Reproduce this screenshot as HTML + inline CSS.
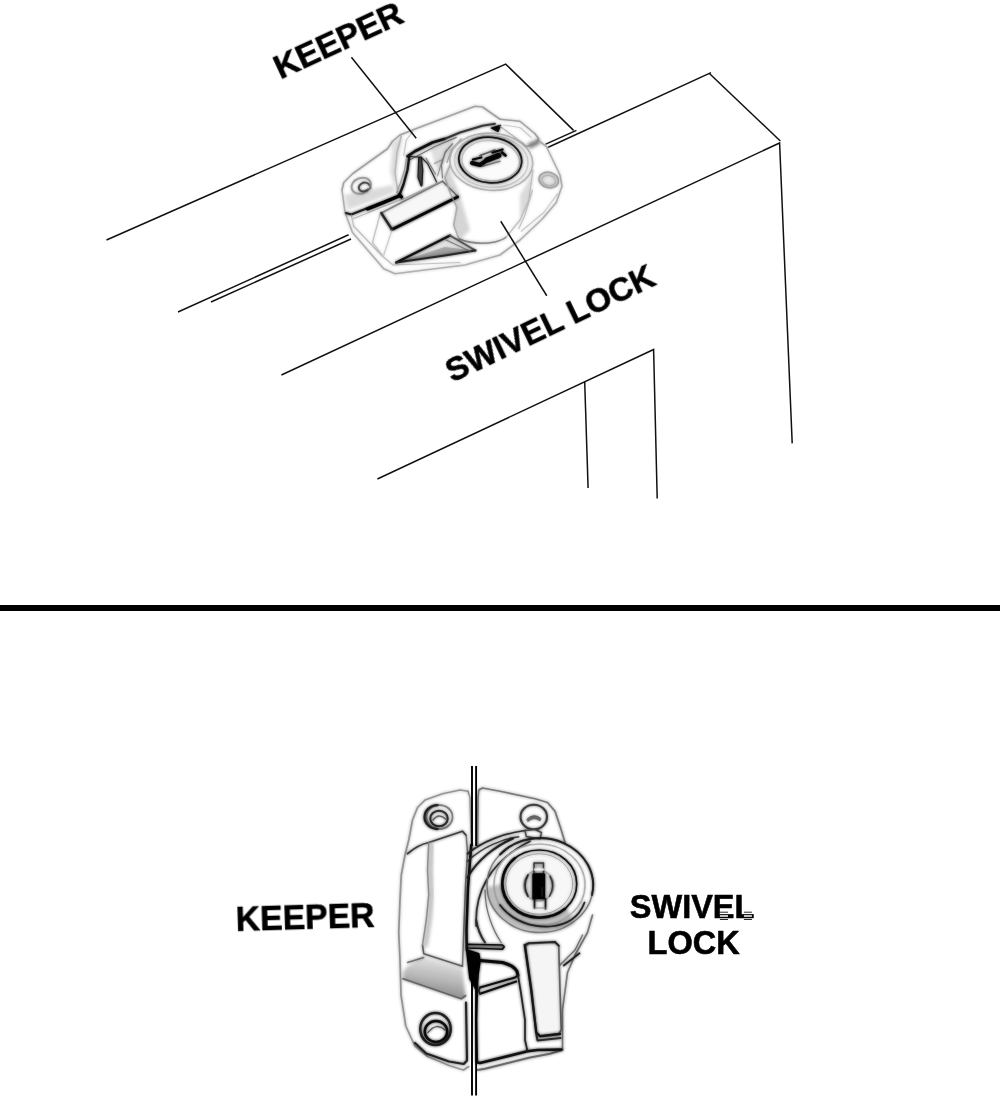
<!DOCTYPE html>
<html>
<head>
<meta charset="utf-8">
<title>Keeper and Swivel Lock</title>
<style>
html,body{margin:0;padding:0;background:#fff;}
body{width:1000px;height:1098px;overflow:hidden;position:relative;font-family:"Liberation Sans",sans-serif;}
svg{position:absolute;left:0;top:0;display:block;}
text{font-family:"Liberation Sans",sans-serif;font-weight:bold;fill:#000;stroke:#000;stroke-width:0.6px;stroke-linejoin:round;}
</style>
</head>
<body>
<svg width="1000" height="1098" viewBox="0 0 1000 1098">
<rect width="1000" height="1098" fill="#fff"/>
<defs><filter id="tsoft" x="-5%" y="-20%" width="110%" height="140%"><feGaussianBlur stdDeviation="0.4"/></filter></defs>
<!-- FRAME LINES TOP -->
<g id="frame" stroke="#111" stroke-width="1.5" fill="none" stroke-linecap="butt">
<path d="M106.5 240 L505.7 64.1 L573.6 130.4"/>
<path d="M178 312 L348.6 234.8"/>
<path d="M211 302 L351 239"/>
<path d="M545.2 144.4 L576.4 130.4"/>
<path d="M547.2 147.8 L711 72.6"/>
<path d="M709.4 73.5 L780.3 141"/>
<path d="M281.4 375 L779.6 143 L792.2 443.4"/>
<path d="M377.4 479 L653.6 349.5 L657.2 498.5"/>
<path d="M584.7 382 L588.1 488.1"/>
</g>
<!-- LOCK TOP placeholder -->
<!--LOCKTOP-START-->
<defs>
<filter id="soft" x="-5%" y="-5%" width="110%" height="110%" color-interpolation-filters="sRGB">
<feGaussianBlur in="SourceGraphic" stdDeviation="1.8" result="a"/>
<feGaussianBlur in="SourceGraphic" stdDeviation="6" result="b"/>
<feBlend mode="multiply" in="a" in2="b"/>
</filter>
<filter id="soft2" x="-20%" y="-20%" width="140%" height="140%"><feGaussianBlur stdDeviation="6"/></filter>
<linearGradient id="gwedge" x1="0" y1="0" x2="0" y2="1">
<stop offset="0" stop-color="#e8e8e8"/><stop offset="1" stop-color="#a8a8a8"/>
</linearGradient>
<radialGradient id="gscrew" cx="0.5" cy="0.5" r="0.5">
<stop offset="0" stop-color="#f6f6f6"/><stop offset="0.7" stop-color="#ebebeb"/><stop offset="1" stop-color="#dadada"/>
</radialGradient>
</defs>
<g id="locktop" transform="translate(320 90) scale(0.25)" fill="none" stroke-linecap="round" stroke-linejoin="round" filter="url(#soft)">
<!-- white mask -->
<path d="M88 400 L95 370 L130 335 L270 235 L290 205 L320 180 L370 160 L620 65 L650 68 L720 117 L800 125 L860 175 L905 225 L960 340 L968 385 L945 450 L890 515 L800 600 L720 660 L580 700 L300 735 L255 715 L130 570 L100 490 Z" fill="#fff" stroke="none"/>
<!-- soft shading blobs -->
<g filter="url(#soft2)" stroke="none">
<path d="M510 300 L495 360 L545 470 L535 540 L560 600 L600 560 L560 420 Z" fill="#e9e9e9"/>
<path d="M800 520 L840 430 L852 330 L800 420 Z" fill="#ececec"/>
<path d="M290 210 L330 190 L310 300 L300 400 L280 330 Z" fill="#efefef"/>
<path d="M100 420 L110 480 L300 410 L290 380 Z" fill="#ececec"/>
<path d="M830 215 L875 195 L880 215 L840 235 Z" fill="#b5b5b5"/>
<path d="M440 230 L540 190 L520 260 L470 330 Z" fill="#eeeeee"/>
</g>
<!-- outer silhouette -->
<path d="M88 400 L95 370 L130 335 L270 235 L290 205 L320 180 L370 160 L620 65 L650 68 L720 117" stroke="#b8b8b8" stroke-width="6.3"/>
<path d="M870 200 L905 225 L960 340 L968 385 L945 450 L890 515 L800 600 L720 660 L580 700 L300 735 L255 715 L130 570 L100 490 L88 400" stroke="#c2c2c2" stroke-width="6.3"/>
<!-- keeper hook right -->
<path d="M720 117 L800 125 L860 175 L875 195 L862 215 L825 226 L808 210" stroke="#b5b5b5" stroke-width="6.3"/>
<path d="M735 140 L800 150 L845 190" stroke="#d8d8d8" stroke-width="4.8"/>
<path d="M685 152 L722 141 L712 166 Z" fill="#1a1a1a" stroke="#1a1a1a" stroke-width="4.8"/>
<path d="M720 145 L760 175 L808 210" stroke="#c9c9c9" stroke-width="4.8"/>
<!-- bridge -->
<path d="M350 265 L380 245 L450 210 L500 195" stroke="#222" stroke-width="10.7"/>
<path d="M500 195 L560 170 L650 143 L700 135" stroke="#555" stroke-width="7.8"/>
<path d="M362 278 L460 226 L545 190" stroke="#8a8a8a" stroke-width="4.8"/>
<path d="M325 185 L308 250 L300 330 L312 412" stroke="#cfcfcf" stroke-width="6.3"/>
<path d="M372 165 L345 200 L335 262" stroke="#d4d4d4" stroke-width="4.8"/>
<path d="M357 266 L350 320 L334 378 L318 419" stroke="#2a2a2a" stroke-width="9.2"/>
<path d="M318 419 L326 428" stroke="#000" stroke-width="13.5"/>
<!-- keeper plate front edge -->
<path d="M104 492 L125 498 L318 422" stroke="#333" stroke-width="7.8"/>
<path d="M190 476 L250 452 L316 424" stroke="#000" stroke-width="12"/>
<path d="M135 514 L330 436" stroke="#c5c5c5" stroke-width="4.8"/>
<path d="M125 500 L135 545 L250 665 L292 700 L560 690" stroke="#cdcdcd" stroke-width="4.8"/>
<!-- left screw hole -->
<ellipse cx="165" cy="383" rx="40" ry="31" stroke="#b9b9b9" stroke-width="7.8" transform="rotate(-20 165 383)"/>
<path d="M192 398 A22 17 -20 1 1 196 378" stroke="#6a6a6a" stroke-width="7.8"/>
<path d="M196 378 L204 392 L192 398" stroke="#8a8a8a" stroke-width="4.8"/>
<!-- under bridge details -->
<path d="M395 269 L392 349 L405 384 L408 381 L411 320 L405 269 Z" stroke="#333" stroke-width="5" fill="#888"/>
<path d="M357 266 L405 269" stroke="#333" stroke-width="5"/>
<path d="M405 269 L430 294 L456 346 L466 368" stroke="#444" stroke-width="5"/>
<path d="M424 272 L462 336" stroke="#a5a5a5" stroke-width="4.8"/>
<path d="M458 294 L490 278 L506 240 M490 278 L470 344" stroke="#b5b5b5" stroke-width="4.8"/>
<path d="M345 275 L338 320 L322 370 L306 410" stroke="#bdbdbd" stroke-width="4.8"/>
<path d="M530 215 L500 250 L486 300 L490 352" stroke="#9a9a9a" stroke-width="4.8"/>
<path d="M565 195 L525 240 L508 290" stroke="#bbb" stroke-width="4.8"/>
<!-- lever -->
<path d="M245 492 L490 365 L550 425 L288 558 Z" fill="#fbfbfb" stroke="none"/>
<path d="M245 492 L490 365" stroke="#9b9b9b" stroke-width="6.3"/>
<path d="M490 365 L550 425" stroke="#8a8a8a" stroke-width="6.3"/>
<path d="M288 558 L550 428" stroke="#111" stroke-width="12.1"/>
<path d="M245 492 L288 558" stroke="#444" stroke-width="9.2"/>
<path d="M240 497 L210 610 L250 662" stroke="#d0d0d0" stroke-width="4.8"/>
<path d="M288 560 L255 660" stroke="#d8d8d8" stroke-width="4.8"/>
<path d="M325 440 L470 372" stroke="#bdbdbd" stroke-width="4.8"/>
<!-- wedge -->
<path d="M305 690 L520 582 L622 642 Z" fill="#f1f1f1" stroke="none"/>
<path d="M305 690 L500 628 L622 642 L500 662 Z" fill="#c9c9c9" stroke="none"/>
<path d="M305 690 L520 582" stroke="#222" stroke-width="9.2"/>
<path d="M520 582 L622 642" stroke="#777" stroke-width="7.8"/>
<path d="M305 690 L500 662 L622 642" stroke="#444" stroke-width="7.8"/>
<path d="M505 600 L600 645" stroke="#999" stroke-width="4.8"/>
<!-- barrel body -->
<path d="M520 300 L500 350 L520 410 L548 470 L535 540 L555 595" stroke="#c6c6c6" stroke-width="6.3"/>
<path d="M555 595 Q620 622 700 608 Q730 600 745 588" stroke="#9d9d9d" stroke-width="6.3"/>
<path d="M745 588 L800 520 L835 440 L852 320" stroke="#cfcfcf" stroke-width="4.8"/>
<path d="M850 400 L820 500 L795 555" stroke="#d2d2d2" stroke-width="4.8"/>
<path d="M950 415 L895 490 L805 565" stroke="#d8d8d8" stroke-width="4.8"/>
<!-- barrel top -->
<ellipse cx="685" cy="287" rx="166" ry="114" transform="rotate(4 685 287)" fill="#fbfbfb" stroke="#c9c9c9" stroke-width="6.3"/>
<ellipse cx="685" cy="286" rx="147" ry="103" transform="rotate(4 685 286)" stroke="#dadada" stroke-width="6.3"/>
<ellipse cx="681" cy="280" rx="126" ry="91" transform="rotate(5 681 280)" fill="#fdfdfd" stroke="#2a2a2a" stroke-width="7"/>
<ellipse cx="683" cy="283" rx="115" ry="80" transform="rotate(5 683 283)" stroke="#d5d5d5" stroke-width="4.8"/>
<!-- keyhole -->
<g stroke="#111">
<path d="M608 292 L640 300 L660 286" stroke-width="16.4"/>
<path d="M612 278 L645 270" stroke-width="9.2"/>
<path d="M668 280 L715 262" stroke-width="20.8"/>
<path d="M690 250 L730 238" stroke-width="9.2"/>
<path d="M728 250 L742 262" stroke-width="10.7"/>
<path d="M640 262 L700 240" stroke="#777" stroke-width="6.3"/>
<path d="M650 305 L720 285" stroke="#999" stroke-width="6.3"/>
</g>
<!-- right screw -->
<ellipse cx="915" cy="360" rx="40" ry="31" transform="rotate(15 915 360)" fill="url(#gscrew)" stroke="#bdbdbd" stroke-width="6.3"/>
<ellipse cx="915" cy="362" rx="27" ry="20" transform="rotate(15 915 362)" stroke="#cfcfcf" stroke-width="4.8"/>
</g>
<!--LOCKTOP-END-->
<!-- LEADERS -->
<g stroke="#111" stroke-width="1.5" fill="none"><path d="M351.4 57.2 L416.2 138.2"/><path d="M500.75 221.25 L546.75 295.75"/></g>
<!-- LABELS TOP -->
<text id="t1" filter="url(#tsoft)" transform="translate(280.3 79.6) rotate(-24.85)" font-size="33.6">KEEPER</text>
<text id="t2" filter="url(#tsoft)" transform="translate(452.3 383) rotate(-25.7)" font-size="32.9">SWIVEL LOCK</text>
<!-- DIVIDER -->
<rect x="0" y="605" width="1000" height="6" fill="#000"/>
<!-- BOTTOM -->
<!--LOCKBOT-START-->
<defs>
<filter id="bsoft" x="-5%" y="-5%" width="110%" height="110%" color-interpolation-filters="sRGB">
<feGaussianBlur in="SourceGraphic" stdDeviation="1.6" result="a"/>
<feGaussianBlur in="SourceGraphic" stdDeviation="6" result="b"/>
<feBlend mode="multiply" in="a" in2="b"/>
</filter>
<filter id="bsoft2" x="-20%" y="-20%" width="140%" height="140%"><feGaussianBlur stdDeviation="7"/></filter>
<linearGradient id="gband" x1="0.35" y1="0" x2="0.1" y2="1">
<stop offset="0" stop-color="#f0f0f0"/><stop offset="0.45" stop-color="#d9d9d9"/><stop offset="1" stop-color="#b2b2b2"/>
</linearGradient>
</defs>
<g id="lockbot" transform="translate(375 770) scale(0.25)" fill="none" stroke-linecap="round" stroke-linejoin="round" filter="url(#bsoft)">
<!-- KEEPER -->
<path d="M372 85 L340 80 L270 95 L200 120 L170 150 L150 200 L135 280 L120 340 L105 420 L100 520 L95 650 L100 760 L104 900 L123 1024 L159 1103 L210 1146 L296 1182 L354 1200 L375 1186 L372 700 L385 300 L380 110 Z" fill="#fff" stroke="none"/>
<!-- shaded band -->
<path d="M125 790 L190 745 L350 792 L362 905 L345 915 L118 838 L110 815 Z" fill="url(#gband)" stroke="none" filter="url(#bsoft2)"/>
<path d="M372 85 L340 80 L270 95 L200 120 L170 150 L150 200 L135 280 L120 340 L105 420 L100 520 L95 650 L100 760 L104 900 L123 1024 L159 1103 L210 1146 L296 1182 L354 1200 L375 1186" stroke="#acacac" stroke-width="7"/>
<path d="M160 1092 L205 1134 L296 1166 L355 1176 L368 1162 L364 930" stroke="#3a3a3a" stroke-width="8.5"/>
<path d="M372 85 L380 110 L385 300" stroke="#a5a5a5" stroke-width="6"/>
<path d="M385 300 L372 470 L366 640 L367 720" stroke="#1c1c1c" stroke-width="10"/>
<!-- hook -->
<path d="M130 335 Q170 300 215 290 L350 245 L365 262" stroke="#555" stroke-width="7"/><path d="M365 262 L370 330 L362 460 L355 640 L350 785" stroke="#8a8a8a" stroke-width="6"/>
<path d="M350 785 L195 735 L190 700" stroke="#7a7a7a" stroke-width="6.5"/><path d="M203 700 L218 600 L228 500 L223 400 L228 300" stroke="#dedede" stroke-width="18" filter="url(#bsoft2)"/><path d="M190 700 L205 600 L215 500 L210 400 L215 290" stroke="#a8a8a8" stroke-width="6"/>
<path d="M112 835 L345 915 L362 903" stroke="#858585" stroke-width="7"/>
<path d="M130 770 L195 750" stroke="#8b8b8b" stroke-width="5.4"/>
<!-- screws keeper -->
<ellipse cx="258" cy="188" rx="52" ry="48" stroke="#9a9a9a" stroke-width="7"/>
<path d="M250 140 A52 48 0 0 0 250 236" stroke="#3c3c3c" stroke-width="9"/>
<ellipse cx="256" cy="194" rx="35" ry="31" stroke="#454545" stroke-width="8.1"/>
<path d="M232 200 Q255 170 282 196" stroke="#7d7d7d" stroke-width="5.4"/>
<ellipse cx="242" cy="1036" rx="61" ry="64" stroke="#3c3c3c" stroke-width="10"/>
<ellipse cx="244" cy="1046" rx="45" ry="42" stroke="#1a1a1a" stroke-width="10"/>
<path d="M212 1050 Q245 1008 280 1040" stroke="#6f6f6f" stroke-width="5.4"/>
<!-- SWIVEL -->
<path d="M415 80 L430 72 L500 85 L640 115 L690 130 L720 165 L745 240 L760 290 L830 350 L870 440 L880 520 L870 600 L850 650 L800 740 L770 810 L750 960 L750 1120 L700 1135 L620 1150 L440 1195 L410 1200 L410 300 L412 110 Z" fill="#fff" stroke="none"/>
<path d="M410 300 L412 110 L415 80 L430 72 L500 85 L640 115 L690 130 L720 165 L745 240 L760 290" stroke="#929292" stroke-width="7"/>
<path d="M870 580 L850 650 L800 740 L770 810 L750 960 L750 1120" stroke="#909090" stroke-width="6.5"/>
<path d="M740 780 L800 720 L830 660" stroke="#8b8b8b" stroke-width="5.4"/>
<path d="M410 1200 L440 1195 L620 1150 L700 1135 L750 1120" stroke="#878787" stroke-width="8.1"/>
<path d="M410 1170 L420 1172 L610 1125 L650 1120 L745 1118" stroke="#222" stroke-width="10.8"/>
<!-- right screw -->
<ellipse cx="635" cy="188" rx="53" ry="49" stroke="#5a5a5a" stroke-width="8.5"/>
<path d="M608 196 Q636 170 664 194 L660 204 Q636 184 612 206 Z" fill="#999" stroke="#777" stroke-width="3"/>

<!-- barrel shading -->
<g filter="url(#bsoft2)" stroke="none">
<path d="M447 470 A210 186 0 0 0 657 648 A210 186 0 0 0 800 612 L765 550 A150 136 0 0 1 507 456 Z" fill="#dcdcdc"/>
</g>
<!-- cam arcs -->
<path d="M370 335 C430 285 520 252 600 242" stroke="#444" stroke-width="7"/>
<path d="M370 365 C430 308 510 275 575 267" stroke="#555" stroke-width="6"/>
<path d="M370 430 C410 360 480 305 552 274" stroke="#3a3a3a" stroke-width="8"/>
<path d="M405 625 C398 500 450 370 620 285" stroke="#4a4a4a" stroke-width="7"/>
<path d="M440 690 Q412 650 405 600" stroke="#4a4a4a" stroke-width="8"/>
<path d="M440 480 C440 560 470 640 505 690" stroke="#8a8a8a" stroke-width="5"/>
<path d="M600 242 L605 266 L660 276 L666 250 L640 238 Z" stroke="#6a6a6a" stroke-width="6" fill="#fff"/>
<!-- barrel -->
<ellipse cx="660" cy="462" rx="212" ry="188" stroke="#9a9a9a" stroke-width="6"/>
<path d="M500 338 A212 188 0 0 1 868 500" stroke="#3a3a3a" stroke-width="8"/>
<ellipse cx="658" cy="459" rx="182" ry="163" stroke="#c4c4c4" stroke-width="6"/>
<ellipse cx="657" cy="456" rx="150" ry="136" fill="#fbfbfb" stroke="#1e1e1e" stroke-width="6.5"/>
<path d="M560 352 A150 136 0 0 0 760 555" stroke="#181818" stroke-width="9.5"/>
<ellipse cx="657" cy="456" rx="134" ry="121" stroke="#b5b5b5" stroke-width="4"/>
<path d="M500 540 C555 612 640 630 700 626 C770 620 818 585 838 530" stroke="#3a3a3a" stroke-width="7"/>
<!-- keyhole -->
<ellipse cx="655" cy="462" rx="60" ry="62" stroke="#bdbdbd" stroke-width="5" fill="#eee"/>
<path d="M612 420 Q588 462 612 505" stroke="#444" stroke-width="7"/>
<path d="M700 425 Q722 462 698 505" stroke="#555" stroke-width="6"/>
<rect x="636" y="372" width="38" height="44" stroke="#555" stroke-width="6" fill="#ddd"/>
<path d="M640 398 H672" stroke="#fff" stroke-width="10"/>
<path d="M638 515 V552 M682 515 V555" stroke="#333" stroke-width="7"/><path d="M638 552 H682" stroke="#aaa" stroke-width="4"/>
<rect x="632" y="416" width="46" height="98" fill="#0a0a0a" stroke="#0a0a0a" stroke-width="5"/>
<path d="M668 470 L668 505" stroke="#777" stroke-width="6"/>
<!-- lower swivel lines -->
<path d="M367 697 L510 700 L517 707 L510 717 L370 712 Z" fill="#cfcfcf" stroke="#1a1a1a" stroke-width="6"/>
<path d="M367 720 L415 735 L420 765 L412 820 L405 880 L380 835 L370 750 Z" fill="#050505" stroke="#050505" stroke-width="6"/>
<path d="M420 762 L510 770 Q555 782 568 805 L572 822" stroke="#161616" stroke-width="12"/>
<path d="M420 870 L560 830 L572 822" stroke="#1a1a1a" stroke-width="8"/>
<path d="M420 895 L565 846" stroke="#1a1a1a" stroke-width="8"/>
<path d="M420 870 L415 884 L420 895" stroke="#333" stroke-width="6"/>
<path d="M410 820 L405 1000 L408 1170" stroke="#222" stroke-width="9"/>
<path d="M572 820 L585 900 L600 1000 L600 1080 L610 1125" stroke="#3a3a3a" stroke-width="7"/>
<!-- lever -->
<path d="M600 705 L615 695 L720 690 L735 705 L740 880 L745 1040 L735 1055 L660 1065 L645 1050 L625 880 Z" fill="#fafafa" stroke="#7e7e7e" stroke-width="6.8"/>
<path d="M600 705 L625 880 L645 1050 L660 1065 L740 1056" stroke="#2a2a2a" stroke-width="9.5"/>
<path d="M597 700 L615 692 L720 687 L736 703" stroke="#333" stroke-width="7"/>
<path d="M755 782 L818 733" stroke="#3a3a3a" stroke-width="7"/>
<path d="M645 1055 L650 1082 L742 1072" stroke="#454545" stroke-width="8.1"/>
</g>
<g stroke="#000" stroke-width="1.9" fill="none">
<path d="M472 766 V846 M476.1 766 V846"/>
<path d="M472 978 V1095.5 M476.1 978 V1095.5"/>
</g>
<!--LOCKBOT-END-->
<text id="t3" filter="url(#tsoft)" transform="translate(236 931) rotate(-1.7) scale(0.965 1)" font-size="35">KEEPER</text>
<text id="t4" filter="url(#tsoft)" x="629.8" y="917.6" font-size="32.5">SWIVEL</text>
<text id="t5" filter="url(#tsoft)" x="647.6" y="953.8" font-size="32.5">LOCK</text>
<g stroke-width="0.9" fill="none">
<path d="M719.9 912.2 H728 M743.9 912.2 H751.9 M719.9 919.5 H728 M743.9 919.5 H751.9" stroke="#111"/>
<path d="M719.9 916 H728 M743.9 916 H751.9" stroke="#fff" stroke-width="1.3"/>
</g>
</svg>
</body>
</html>
